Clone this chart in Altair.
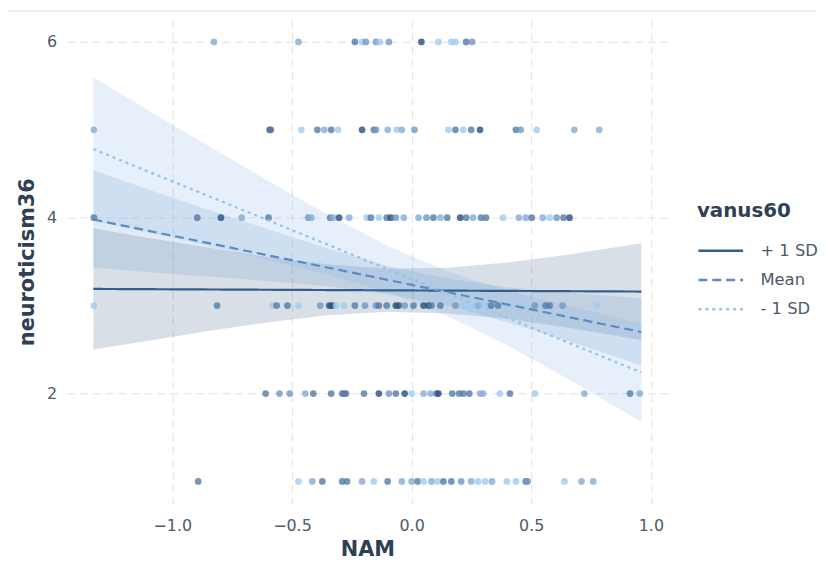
import altair as alt
import pandas as pd

# ---------------- data ----------------
levels = ["+ 1 SD", "Mean", "- 1 SD"]

# scatter rows (y value, x values, shade code)
row6_x = [-0.826, -0.473, -0.237, -0.207, -0.191, -0.149, -0.133, -0.095, 0.041, 0.112, 0.166, 0.183, 0.228, 0.253]
row6_s = ["ML", "ML", "MD", "L", "M", "M", "L", "M", "D", "L", "L", "L", "MD", "M"]

row5_x = [-1.328, -0.593, -0.588, -0.461, -0.394, -0.365, -0.336, -0.307, -0.207, -0.158, -0.149, -0.100,
          -0.062, -0.041, 0.012, 0.154, 0.183, 0.216, 0.249, 0.286, 0.436, 0.456, 0.523, 0.680, 0.784]
row5_s = ["ML", "D", "MD", "L", "MD", "ML", "MD", "L", "D", "MD", "M", "ML",
          "L", "ML", "M", "L", "MD", "L", "MD", "D", "MD", "M", "L", "ML", "ML"]

row4_x = [-1.328, -0.896, -0.797, -0.710, -0.598, -0.432, -0.419, -0.340, -0.328, -0.303, -0.261, -0.187,
          -0.170, -0.137, -0.104, -0.087, -0.066, -0.033, 0.029, 0.062, 0.091, 0.120, 0.149, 0.203, 0.228,
          0.257, 0.290, 0.311, 0.382, 0.448, 0.477, 0.502, 0.548, 0.577, 0.606, 0.635, 0.660]
row4_s = ["MD", "MD", "D", "ML", "MD", "M", "ML", "MD", "ML", "D", "ML", "L",
          "MD", "L", "MD", "D", "M", "ML", "ML", "M", "MD", "ML", "MD", "D", "MD",
          "ML", "MD", "MD", "L", "ML", "ML", "MD", "ML", "L", "M", "MD", "D"]

row3_x = [-1.328, -0.813, -0.581, -0.564, -0.519, -0.473, -0.382, -0.344, -0.332, -0.315, -0.282, -0.237,
          -0.195, -0.149, -0.137, -0.104, -0.066, -0.054, -0.029, 0.008, 0.050, 0.071, 0.083, 0.120,
          0.183, 0.220, 0.257, 0.278, 0.307, 0.332, 0.361, 0.394, 0.473, 0.515, 0.560, 0.577, 0.631, 0.776]
row3_s = ["L", "MD", "L", "MD", "MD", "L", "M", "D", "D", "L", "L", "MD",
          "M", "M", "MD", "MD", "D", "D", "M", "MD", "D", "D", "MD", "MD",
          "M", "L", "L", "ML", "L", "MD", "MD", "L", "L", "M", "MD", "MD", "M", "L"]

row2_x = [-0.610, -0.552, -0.510, -0.444, -0.411, -0.336, -0.290, -0.282, -0.274, -0.199, -0.137, -0.095,
          -0.066, -0.029, 0.000, 0.050, 0.079, 0.104, 0.112, 0.170, 0.199, 0.216, 0.241, 0.286, 0.299,
          0.369, 0.411, 0.515, 0.722, 0.913, 0.954]
row2_s = ["MD", "M", "M", "ML", "MD", "MD", "MD", "MD", "MD", "MD", "D", "M",
          "MD", "D", "L", "ML", "ML", "MD", "D", "MD", "MD", "MD", "MD", "ML", "ML",
          "L", "MD", "L", "ML", "MD", "ML"]

row1_x = [-0.892, -0.473, -0.415, -0.373, -0.290, -0.270, -0.207, -0.158, -0.100, -0.041, 0.000, 0.025,
          0.050, 0.083, 0.108, 0.133, 0.166, 0.207, 0.249, 0.278, 0.307, 0.336, 0.398, 0.436, 0.477,
          0.485, 0.639, 0.710, 0.759]
row1_s = ["MD", "L", "ML", "MD", "MD", "MD", "ML", "L", "MD", "ML", "ML", "MD",
          "L", "ML", "L", "MD", "MD", "M", "ML", "L", "L", "ML", "L", "L", "MD",
          "M", "L", "ML", "ML"]

shade_codes = ["L", "ML", "M", "MD", "D"]
shade_colors = ["#9fcdf2", "#86add6", "#6f97c4", "#557ba5", "#274f7d"]

# fitted lines (endpoints)
line_x = [-1.33, 0.96]
plus_y = [3.19, 3.16]
mean_y = [3.98, 2.70]
minus_y = [4.78, 2.24]

# confidence bands
band_x = [-1.33, -1.10, -0.85, -0.60, -0.35, -0.10, 0.15, 0.40, 0.65, 0.96]
plus_lo = [2.50, 2.60, 2.71, 2.81, 2.89, 2.93, 2.91, 2.85, 2.75, 2.61]
plus_hi = [3.88, 3.77, 3.66, 3.55, 3.47, 3.42, 3.43, 3.49, 3.58, 3.71]
mean_lo = [3.43, 3.38, 3.33, 3.28, 3.22, 3.13, 3.00, 2.81, 2.60, 2.32]
mean_hi = [4.54, 4.32, 4.09, 3.87, 3.65, 3.45, 3.31, 3.21, 3.15, 3.08]
minus_lo = [3.96, 3.83, 3.68, 3.52, 3.35, 3.15, 2.88, 2.55, 2.17, 1.68]
minus_hi = [5.60, 5.22, 4.82, 4.42, 4.03, 3.68, 3.39, 3.17, 3.00, 2.80]
band_fill = {"+ 1 SD": "#3b5f80", "Mean": "#6a9ccf", "- 1 SD": "#80b0e8"}

line_colors = ["#325f8f", "#5a8bc2", "#93c2ec"]
line_dashes = [[1, 0], [9, 5], [3, 4]]

# ---------------- tables ----------------
pts = []
for yv, xs, ss in [(6, row6_x, row6_s), (5, row5_x, row5_s), (4, row4_x, row4_s),
                   (3, row3_x, row3_s), (2, row2_x, row2_s), (1, row1_x, row1_s)]:
    for xv, sv in zip(xs, ss):
        pts.append({"NAM": xv, "neuroticism36": yv,
                    "col": shade_colors[shade_codes.index(sv)]})
pts = pd.DataFrame(pts)

bands = []
for lev, lo, hi in [("+ 1 SD", plus_lo, plus_hi), ("Mean", mean_lo, mean_hi), ("- 1 SD", minus_lo, minus_hi)]:
    for xv, l, h in zip(band_x, lo, hi):
        bands.append({"NAM": xv, "lo": l, "hi": h, "vanus60": lev, "fillc": band_fill[lev]})
bands = pd.DataFrame(bands)

lines = []
for lev, ys in [("+ 1 SD", plus_y), ("Mean", mean_y), ("- 1 SD", minus_y)]:
    for xv, yv in zip(line_x, ys):
        lines.append({"NAM": xv, "neuroticism36": yv, "vanus60": lev})
lines = pd.DataFrame(lines)

FONT = "DejaVu Sans"
xscale = alt.Scale(domain=[-1.442, 1.072], nice=False, zero=False)
yscale = alt.Scale(domain=[0.75, 6.25], nice=False, zero=False)

xaxis = alt.Axis(values=[-1.0, -0.5, 0.0, 0.5, 1.0], format=".1f", title="NAM",
                 ticks=False, domain=False, labelPadding=14, titleY=52,
                 titleBaseline="alphabetic")
yaxis = alt.Axis(values=[2, 4, 6], format="d", title="neuroticism36",
                 ticks=False, domain=False, labelPadding=10, titleX=-33,
                 titleAngle=270, titleBaseline="alphabetic")

band_layer = alt.Chart(bands).mark_area(opacity=0.2).encode(
    x=alt.X("NAM:Q", scale=xscale, axis=xaxis),
    y=alt.Y("lo:Q", scale=yscale, axis=yaxis),
    y2="hi:Q",
    fill=alt.Fill("fillc:N", scale=None, legend=None),
    detail="vanus60:N",
)

point_layer = alt.Chart(pts).mark_circle(size=46, opacity=0.8).encode(
    x=alt.X("NAM:Q", scale=xscale),
    y=alt.Y("neuroticism36:Q", scale=yscale),
    color=alt.Color("col:N", scale=None, legend=None),
)

line_layer = alt.Chart(lines).mark_line(strokeWidth=2.2).encode(
    x=alt.X("NAM:Q", scale=xscale),
    y=alt.Y("neuroticism36:Q", scale=yscale),
    stroke=alt.Stroke("vanus60:N", scale=alt.Scale(domain=levels, range=line_colors),
                      sort=levels, title="vanus60"),
    strokeDash=alt.StrokeDash("vanus60:N", scale=alt.Scale(domain=levels, range=line_dashes),
                              sort=levels, title="vanus60"),
)

# thin frame line above the figure, as in the reference screenshot
top_rule = alt.Chart(pd.DataFrame({"k": [0]})).mark_rule(color="#dcdcdc", strokeWidth=1).encode(
    y=alt.value(-9), x=alt.value(-61), x2=alt.value(755)
)

chart = alt.layer(band_layer, point_layer, line_layer, top_rule).properties(
    width=606, height=487,
    autosize=alt.AutoSizeParams(type="none"),
    padding={"left": 59, "top": 10, "right": 153, "bottom": 57},
).configure_view(stroke=None).configure_axis(
    grid=True, gridColor="#e6e6e6", gridDash=[8, 5], gridWidth=1.2,
    labelFont=FONT, labelFontSize=16, labelColor="#4d5a6b",
    titleFont=FONT, titleFontSize=21, titleFontWeight="bold", titleColor="#2f3f55",
).configure_legend(
    orient="none", legendX=635, legendY=183,
    titleFont=FONT, titleFontSize=20, titleFontWeight="bold", titleColor="#2f3f55",
    labelFont=FONT, labelFontSize=16.5, labelColor="#4d5a6b",
    symbolType="M-1,0H3.5", symbolSize=400, symbolStrokeWidth=2.5,
    labelOffset=41, titlePadding=18, rowPadding=9.5,
)

chart.save("out.html", embed_options={"renderer": "svg", "actions": False})
